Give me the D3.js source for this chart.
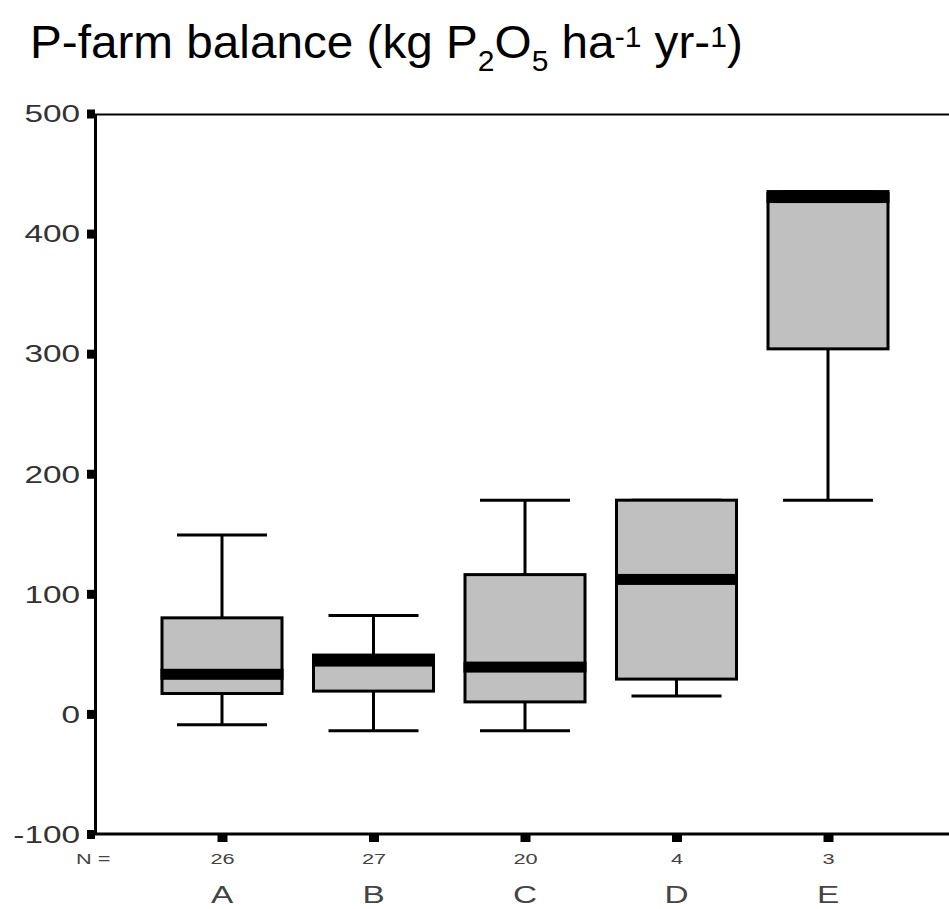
<!DOCTYPE html>
<html>
<head>
<meta charset="utf-8">
<script src="https://cdn.jsdelivr.net/npm/d3@7"></script>
<style>
    body { margin: 0; background: #fff; }
    svg { display: block; }
    text { font-family: "Liberation Sans", Arial, sans-serif; }
</style>
</head>
<body>
<div id="chart-area"></div>
<script>

// Data
const categories = ["A", "B", "C", "D", "E"];
const nCounts = [26, 27, 20, 4, 3];
const whiskerLow = [-9, -14, -14, 15, 178];
const q1Values = [17, 19, 10, 29, 304];
const medianValues = [33, 44, 39, 112, 430];
const q3Values = [80, 49, 116, 178, 435];
const whiskerHigh = [149, 82, 178, 178, 435];
const yTicks = [-100, 0, 100, 200, 300, 400, 500];

class BoxPlot {

    constructor(parentElement) {
        this.parentElement = parentElement;
        this.initVis();
    }

    initVis() {
        let vis = this;

        vis.width = 949;
        vis.height = 909;

        vis.svg = d3.select("#" + vis.parentElement).append("svg")
            .attr("width", vis.width)
            .attr("height", vis.height);

        // plot frame in pixels
        vis.left = 95;
        vis.top = 113.5;
        vis.bottom = 834;

        // Scales
        vis.y = d3.scaleLinear()
            .domain([-100, 500])
            .range([vis.bottom, vis.top]);

        vis.x = d3.scalePoint()
            .domain(categories)
            .range([222, 828]);

        // Title with sub/superscripts
        let title = vis.svg.append("text")
            .attr("x", 0)
            .attr("y", 0)
            .style("font-size", "46px")
            .attr("fill", "#000");
        title.append("tspan").text("P-farm balance (kg P");
        title.append("tspan").attr("baseline-shift", "-13px").style("font-size", "29px").text("2");
        title.append("tspan").text("O");
        title.append("tspan").attr("baseline-shift", "-13px").style("font-size", "29px").text("5");
        title.append("tspan").text(" ha");
        title.append("tspan").attr("baseline-shift", "11px").style("font-size", "29px").text("-1");
        title.append("tspan").text(" yr-");
        title.append("tspan").attr("baseline-shift", "11px").style("font-size", "29px").text("1");
        title.append("tspan").text(")");

        // squeeze/stretch the title to the width it has in the picture
        let titleWidth = title.node().getComputedTextLength();
        let sx = 713 / titleWidth;
        title.attr("transform", "translate(30,58) scale(" + sx + ",1)");

        vis.wrangleData();
    }

    wrangleData() {
        let vis = this;

        vis.boxData = categories.map((c, i) => ({
            key: c,
            n: nCounts[i],
            low: whiskerLow[i],
            q1: q1Values[i],
            median: medianValues[i],
            q3: q3Values[i],
            high: whiskerHigh[i]
        }));

        vis.updateVis();
    }

    updateVis() {
        let vis = this;

        const boxWidth = 120;
        const capWidth = 90;

        // top frame line
        vis.svg.append("line")
            .attr("x1", vis.left)
            .attr("x2", vis.width)
            .attr("y1", vis.y(500) + 1)
            .attr("y2", vis.y(500) + 1)
            .attr("stroke", "#000")
            .attr("stroke-width", 2);

        // Whiskers (vertical)
        vis.svg.selectAll(".whisker")
            .data(vis.boxData)
            .join("line")
            .attr("class", "whisker")
            .attr("x1", d => vis.x(d.key))
            .attr("x2", d => vis.x(d.key))
            .attr("y1", d => vis.y(d.low))
            .attr("y2", d => vis.y(d.high))
            .attr("stroke", "#000")
            .attr("stroke-width", 3);

        // Whisker caps
        vis.svg.selectAll(".capLow")
            .data(vis.boxData)
            .join("line")
            .attr("class", "capLow")
            .attr("x1", d => vis.x(d.key) - capWidth / 2)
            .attr("x2", d => vis.x(d.key) + capWidth / 2)
            .attr("y1", d => vis.y(d.low))
            .attr("y2", d => vis.y(d.low))
            .attr("stroke", "#000")
            .attr("stroke-width", 3);

        vis.svg.selectAll(".capHigh")
            .data(vis.boxData)
            .join("line")
            .attr("class", "capHigh")
            .attr("x1", d => vis.x(d.key) - capWidth / 2)
            .attr("x2", d => vis.x(d.key) + capWidth / 2)
            .attr("y1", d => vis.y(d.high))
            .attr("y2", d => vis.y(d.high))
            .attr("stroke", "#000")
            .attr("stroke-width", 3);

        // Boxes
        vis.svg.selectAll(".box")
            .data(vis.boxData)
            .join("rect")
            .attr("class", "box")
            .attr("x", d => vis.x(d.key) - boxWidth / 2)
            .attr("width", boxWidth)
            .attr("y", d => vis.y(d.q3))
            .attr("height", d => vis.y(d.q1) - vis.y(d.q3))
            .attr("fill", "#c0c0c0")
            .attr("stroke", "#000")
            .attr("stroke-width", 3);

        // Median bands
        vis.svg.selectAll(".median")
            .data(vis.boxData)
            .join("rect")
            .attr("class", "median")
            .attr("x", d => vis.x(d.key) - boxWidth / 2 - 1.5)
            .attr("width", boxWidth + 3)
            .attr("y", d => vis.y(d.median) - 5.5)
            .attr("height", 11)
            .attr("fill", "#000");

        // Y axis: square ticks, stretched labels
        let yAxis = d3.axisLeft(vis.y)
            .tickValues(yTicks)
            .tickSizeInner(8)
            .tickSizeOuter(0)
            .tickFormat(d => String(d));

        let yG = vis.svg.append("g")
            .attr("class", "y-axis axis")
            .attr("transform", "translate(" + vis.left + ",0)")
            .call(yAxis);

        yG.select(".domain").attr("stroke", "#000").attr("stroke-width", 3);
        yG.selectAll(".tick line").attr("stroke", "#000").attr("stroke-width", 9);
        yG.selectAll(".tick text")
            .attr("x", 0)
            .attr("dy", "0.36em")
            .attr("transform", "translate(-15,0) scale(1.45,1)")
            .attr("fill", "#333")
            .style("font-size", "23px")
            .style("font-family", "'Liberation Sans', Arial, sans-serif");

        // X axis line
        vis.svg.append("line")
            .attr("x1", vis.left - 8)
            .attr("x2", vis.width)
            .attr("y1", vis.bottom)
            .attr("y2", vis.bottom)
            .attr("stroke", "#000")
            .attr("stroke-width", 3);

        // X axis: small square ticks and N counts
        let xAxis = d3.axisBottom(vis.x)
            .tickSizeInner(7)
            .tickSizeOuter(0)
            .tickFormat((d, i) => nCounts[i]);

        let xG = vis.svg.append("g")
            .attr("class", "x-axis axis")
            .attr("transform", "translate(0," + (vis.bottom + 1) + ")")
            .call(xAxis);

        xG.select(".domain").remove();
        xG.selectAll(".tick line").attr("stroke", "#000").attr("stroke-width", 10);
        xG.selectAll(".tick text")
            .attr("y", 0)
            .attr("dy", 0)
            .attr("transform", "translate(0,29) scale(1.45,1)")
            .attr("fill", "#444")
            .style("font-size", "15px")
            .style("font-family", "'Liberation Sans', Arial, sans-serif");

        // "N =" label
        vis.svg.append("text")
            .attr("transform", "translate(76,864) scale(1.45,1)")
            .attr("fill", "#444")
            .style("font-size", "15px")
            .text("N =");

        // Category labels
        vis.svg.selectAll(".catLabel")
            .data(vis.boxData)
            .join("text")
            .attr("class", "catLabel")
            .attr("transform", d => "translate(" + vis.x(d.key) + ",903) scale(1.45,1)")
            .attr("text-anchor", "middle")
            .attr("fill", "#444")
            .style("font-size", "23px")
            .text(d => d.key);
    }
}

new BoxPlot("chart-area");

</script>
</body>
</html>
